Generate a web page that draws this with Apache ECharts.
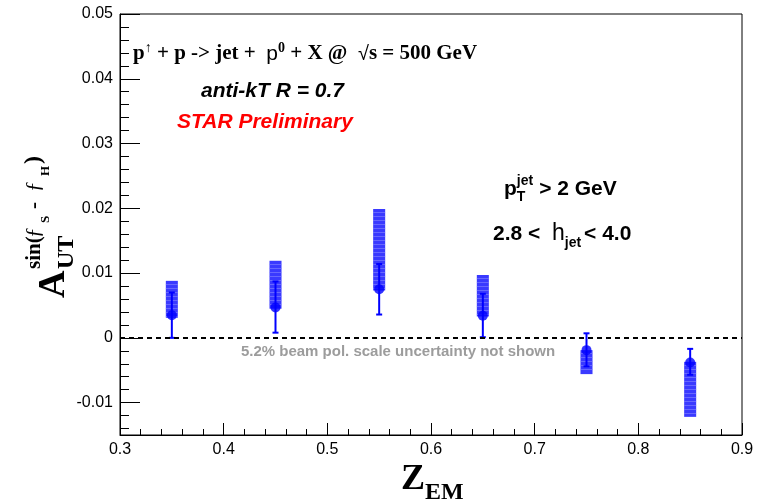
<!DOCTYPE html>
<html><head><meta charset="utf-8">
<script src="https://cdn.jsdelivr.net/npm/echarts@6/dist/echarts.min.js"></script>
<style>html,body{margin:0;padding:0;background:#fff}#chart{width:757px;height:504px}</style>
</head><body><div id="chart"></div>
<script>
// ---- data ----
const zEM      = [0.35, 0.45, 0.55, 0.65, 0.75, 0.85];
const aUT      = [0.0035, 0.0047, 0.0075, 0.0034, -0.0019, -0.0038];
const statLow  = [0.0000, 0.0008, 0.0036, 0.0001, -0.0044, -0.0057];
const statHigh = [0.0070, 0.0087, 0.0114, 0.0068, 0.0007, -0.0017];
const sysLow   = [0.0031, 0.0045, 0.0073, 0.0033, -0.0056, -0.0122];
const sysHigh  = [0.0088, 0.0119, 0.0199, 0.0097, -0.0019, -0.0037];
const xTicks      = [0.3, 0.4, 0.5, 0.6, 0.7, 0.8, 0.9];
const xTickLabels = ['0.3','0.4','0.5','0.6','0.7','0.8','0.9'];
const yTicks      = [-0.01, 0, 0.01, 0.02, 0.03, 0.04, 0.05];
const yTickLabels = ['-0.01','0','0.01','0.02','0.03','0.04','0.05'];

// minor tick positions
const xMinor = [];
for (let i = 15; i <= 45; i++) { if (i % 5) xMinor.push(i / 50); }
const yMinor = [];
for (let i = -7; i <= 24; i++) { if (i % 5) yMinor.push(i / 500); }

function lookup(vals, labels, v) {
  let best = 0;
  vals.forEach((t, i) => { if (Math.abs(t - v) < Math.abs(vals[best] - v)) best = i; });
  return labels[best];
}

// ---- text helpers ----
const mctx = document.createElement('canvas').getContext('2d');
function fontOf(p) { return (p.style || 'normal') + ' ' + (p.weight || 'normal') + ' ' + p.size + 'px ' + p.family; }
function tw(text, font) { mctx.font = font; return mctx.measureText(text).width; }
function seq(x0, baseY, parts) {
  let cx = 0; const out = [];
  parts.forEach(p => {
    const font = fontOf(p);
    const x = (p.x !== undefined) ? p.x : cx;
    out.push({
      type: 'text', x: x0 + x, y: baseY + (p.dy || 0) - 0.34 * p.size,
      style: { text: p.text, font: font, fill: p.fill || '#000', align: 'left', verticalAlign: 'middle' }
    });
    if (!p.noAdvance) cx = x + tw(p.text, font) + (p.gap || 0);
  });
  return out;
}
const SERIF = '"Liberation Serif"', SANS = '"Liberation Sans"';
const B = 'bold';

const graphics = [];
// Title line 1
graphics.push(...seq(133, 61, [
  { text: 'p', weight: B, size: 21, family: SERIF },
  { text: '\u2191', size: 14, family: SERIF, dy: -8 },
  { text: ' + p -> jet +  ', weight: B, size: 21, family: SERIF },
  { text: 'p', size: 21, family: SANS },
  { text: '0', weight: B, size: 14, family: SERIF, dy: -8 },
  { text: ' + X @  ', weight: B, size: 21, family: SERIF },
  { text: '\u221A', size: 20, family: SANS },
  { text: 's = 500 GeV', weight: B, size: 21, family: SERIF }
]));
graphics.push(...seq(201, 98, [{ text: 'anti-kT R = 0.7', style: 'italic', weight: B, size: 21, family: SANS }]));
graphics.push(...seq(177, 129, [{ text: 'STAR Preliminary', style: 'italic', weight: B, size: 21, family: SANS, fill: '#ff0000' }]));
graphics.push(...seq(504, 196, [
  { text: 'p', weight: B, size: 21, family: SANS },
  { text: 'T', weight: B, size: 14, family: SANS, dy: 6, noAdvance: true },
  { text: 'jet', weight: B, size: 14, family: SANS, dy: -10, gap: 6 },
  { text: '> 2 GeV', weight: B, size: 21, family: SANS }
]));
graphics.push(...seq(493, 241, [
  { text: '2.8 <  ', weight: B, size: 21, family: SANS },
  { text: 'h', size: 23, family: SANS },
  { text: 'jet', weight: B, size: 14, family: SANS, dy: 7, gap: 3 },
  { text: '< 4.0', weight: B, size: 21, family: SANS }
]));
// beam pol note
graphics.push({
  type: 'text', x: 398, y: 352,
  style: { text: '5.2% beam pol. scale uncertainty not shown', font: 'bold 15px "Liberation Sans"', fill: '#9c9c9c', align: 'center', verticalAlign: 'middle' }
});
// x axis title
graphics.push(...seq(401, 492, [
  { text: 'Z', weight: B, size: 36, family: SERIF },
  { text: 'EM', weight: B, size: 24, family: SERIF, dy: 9 }
]));
// y axis title (rotated)
graphics.push({
  type: 'group', x: 67, y: 298, rotation: Math.PI / 2,
  children: seq(0, 0, [
    { text: 'A', weight: B, size: 38, family: SERIF, x: 0, noAdvance: true },
    { text: 'UT', weight: B, size: 24, family: SERIF, x: 29, dy: 8, noAdvance: true },
    { text: 'sin(', weight: B, size: 21, family: SERIF, x: 29, dy: -25, noAdvance: true },
    { text: '\u0192', size: 22, family: SERIF, x: 60, dy: -25, noAdvance: true },
    { text: 'S', weight: B, size: 13, family: SERIF, x: 75, dy: -17, noAdvance: true },
    { text: '-', weight: B, size: 21, family: SERIF, x: 89, dy: -25, noAdvance: true },
    { text: '\u0192', size: 22, family: SERIF, x: 106, dy: -25, noAdvance: true },
    { text: 'H', weight: B, size: 13, family: SERIF, x: 122, dy: -17, noAdvance: true },
    { text: ')', weight: B, size: 24, family: SERIF, x: 134, dy: -25, noAdvance: true }
  ])
});

const chart = echarts.init(document.getElementById('chart'), null, { renderer: 'canvas' });
const axisCommon = { type: 'value', splitLine: { show: false } };
chart.setOption({
  animation: false,
  backgroundColor: '#fff',
  grid: { left: 120, right: 15, top: 14, bottom: 69, containLabel: false, outerBoundsMode: 'none',
          show: true, borderColor: '#000', borderWidth: 1 },
  xAxis: [
    Object.assign({}, axisCommon, {
      min: 0.3, max: 0.9, position: 'bottom',
      axisLine: { show: true, onZero: false, lineStyle: { color: '#000', width: 1 } },
      axisTick: { show: true, inside: true, length: 12, customValues: xTicks, lineStyle: { color: '#000' } },
      axisLabel: { customValues: xTicks, formatter: v => lookup(xTicks, xTickLabels, v),
                   color: '#000', fontSize: 16, fontFamily: 'Liberation Sans', margin: 7 }
    }),
    Object.assign({}, axisCommon, {
      min: 0.3, max: 0.9, position: 'bottom',
      axisLine: { show: false, onZero: false },
      axisTick: { show: true, inside: true, length: 6, customValues: xMinor, lineStyle: { color: '#000' } },
      axisLabel: { show: false }
    })
  ],
  yAxis: [
    Object.assign({}, axisCommon, {
      min: -0.015, max: 0.05, position: 'left',
      axisLine: { show: true, onZero: false, lineStyle: { color: '#000', width: 1 } },
      axisTick: { show: true, inside: true, length: 20, customValues: yTicks, lineStyle: { color: '#000' } },
      axisLabel: { customValues: yTicks, formatter: v => lookup(yTicks, yTickLabels, v),
                   color: '#000', fontSize: 16, fontFamily: 'Liberation Sans', margin: 7 }
    }),
    Object.assign({}, axisCommon, {
      min: -0.015, max: 0.05, position: 'left',
      axisLine: { show: false, onZero: false },
      axisTick: { show: true, inside: true, length: 9, customValues: yMinor, lineStyle: { color: '#000' } },
      axisLabel: { show: false }
    })
  ],
  series: [
    {
      name: 'sys', type: 'custom', xAxisIndex: 0, yAxisIndex: 0, z: 2,
      data: zEM.map((x, i) => [x, sysLow[i], sysHigh[i]]),
      encode: { x: 0, y: [1, 2] },
      renderItem: function (params, api) {
        const x = api.value(0), lo = api.value(1), hi = api.value(2);
        const p1 = api.coord([x - 0.0058, hi]);
        const p2 = api.coord([x + 0.0058, lo]);
        const w = p2[0] - p1[0], h = p2[1] - p1[1];
        const ch = [{ type: 'rect', shape: { x: p1[0], y: p1[1], width: w, height: h }, style: { fill: '#3a3aff' } }];
        for (let yy = p1[1] + 3; yy < p2[1] - 1; yy += 4) {
          ch.push({ type: 'line', shape: { x1: p1[0], y1: Math.round(yy) + 0.5, x2: p1[0] + w, y2: Math.round(yy) + 0.5 },
                    style: { stroke: 'rgba(140,140,255,0.55)', lineWidth: 1 } });
        }
        return { type: 'group', children: ch };
      }
    },
    {
      name: 'stat', type: 'custom', xAxisIndex: 0, yAxisIndex: 0, z: 3,
      data: zEM.map((x, i) => [x, statLow[i], statHigh[i]]),
      encode: { x: 0, y: [1, 2] },
      renderItem: function (params, api) {
        const x = api.value(0);
        const t = api.coord([x, api.value(2)]);
        const b = api.coord([x, api.value(1)]);
        const st = { stroke: '#0000ff', lineWidth: 2 };
        return { type: 'group', children: [
          { type: 'line', shape: { x1: t[0], y1: t[1], x2: b[0], y2: b[1] }, style: st },
          { type: 'line', shape: { x1: t[0] - 3, y1: t[1], x2: t[0] + 3, y2: t[1] }, style: st },
          { type: 'line', shape: { x1: b[0] - 3, y1: b[1], x2: b[0] + 3, y2: b[1] }, style: st }
        ] };
      }
    },
    {
      name: 'A_UT', type: 'scatter', xAxisIndex: 0, yAxisIndex: 0, z: 4,
      data: zEM.map((x, i) => [x, aUT[i]]),
      symbol: 'circle', symbolSize: 10,
      itemStyle: { color: '#0000ff' },
      markLine: {
        silent: true, symbol: ['none', 'none'], label: { show: false },
        lineStyle: { color: '#000', width: 2, type: [5, 4] },
        data: [{ yAxis: 0 }]
      }
    }
  ],
  graphic: graphics
});
</script>
</body></html>
